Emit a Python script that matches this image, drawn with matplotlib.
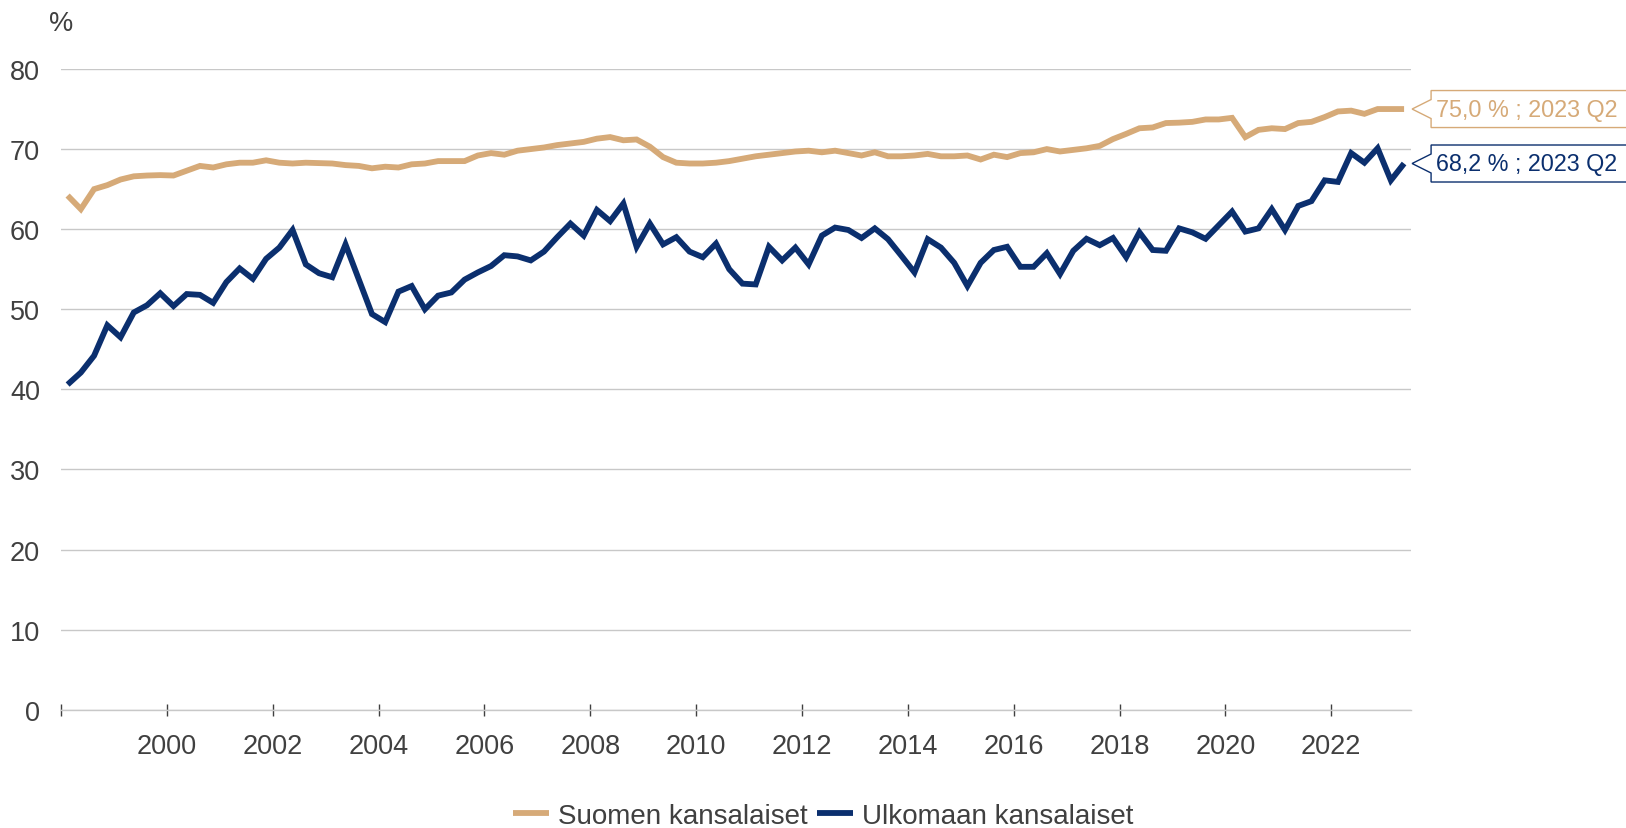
import matplotlib
matplotlib.use('Agg')
import matplotlib.pyplot as plt
from matplotlib.patches import Polygon
from matplotlib.transforms import IdentityTransform
import numpy as np

plt.rcParams['font.family'] = ['Liberation Sans', 'DejaVu Sans']

# ---------------- data ----------------
years = list(range(1998, 2024))
quarters = [1, 2, 3, 4]
n_points = 102  # 1998 Q1 ... 2023 Q2

suomi = [64.2, 62.5, 65.0, 65.5, 66.2, 66.6, 66.7, 66.75, 66.7, 67.3, 67.9, 67.7, 68.1, 68.3, 68.3, 68.6,
         68.3, 68.2, 68.3, 68.25, 68.2, 68.0, 67.9, 67.6, 67.8, 67.7, 68.1, 68.2, 68.5, 68.5, 68.5,
         69.2, 69.5, 69.3, 69.8, 70.0, 70.2, 70.5, 70.7, 70.9, 71.3, 71.5, 71.1, 71.2, 70.3, 69.0, 68.3,
         68.2, 68.2, 68.3, 68.5, 68.8, 69.1, 69.3, 69.5, 69.7, 69.8, 69.6, 69.8, 69.5, 69.2, 69.6,
         69.1, 69.1, 69.2, 69.4, 69.1, 69.1, 69.2, 68.7, 69.3, 69.0, 69.5, 69.6, 70.0, 69.7, 69.9, 70.1,
         70.4, 71.25, 71.9, 72.6, 72.7, 73.25, 73.3, 73.4, 73.7, 73.7, 73.9, 71.5, 72.4, 72.6, 72.5,
         73.25, 73.4, 74.0, 74.7, 74.8, 74.4, 75.0, 75.0, 75.0]

ulko = [40.6, 42.1, 44.2, 48.0, 46.5, 49.6, 50.5, 52.0, 50.4, 51.9, 51.8, 50.8, 53.4, 55.1, 53.8, 56.3,
        57.7, 59.9, 55.6, 54.5, 54.0, 58.1, 53.75, 49.4, 48.4, 52.2, 52.9, 50.0, 51.7, 52.1, 53.7,
        54.6, 55.4, 56.75, 56.6, 56.1, 57.2, 59.0, 60.7, 59.2, 62.4, 61.0, 63.2, 57.8, 60.7, 58.1, 59.0,
        57.2, 56.5, 58.2, 55.0, 53.2, 53.1, 57.8, 56.1, 57.7, 55.6, 59.2, 60.2, 59.9, 58.9, 60.1,
        58.75, 56.7, 54.6, 58.75, 57.7, 55.8, 52.9, 55.8, 57.4, 57.8, 55.3, 55.3, 57.0, 54.4, 57.3, 58.8,
        58.0, 58.9, 56.5, 59.6, 57.4, 57.3, 60.1, 59.6, 58.8, 60.5, 62.2, 59.7, 60.1, 62.5, 59.9,
        62.9, 63.5, 66.1, 65.9, 69.5, 68.3, 70.1, 66.1, 68.2]

series_names = ['Suomen kansalaiset', 'Ulkomaan kansalaiset']
end_labels = ['75,0 % ; 2023 Q2', '68,2 % ; 2023 Q2']
xtick_years = list(range(1998, 2023, 2))
xtick_labels = [''] + [str(y) for y in range(2000, 2023, 2)]
ytick_vals = list(range(0, 81, 10))

TAN = '#D6AA78'
NAVY = '#0B2F6E'
GREY_TXT = '#404040'
GRID = '#C8C8C8'

# ---------------- figure ----------------
W, H = 1626, 829
fig = plt.figure(figsize=(W / 100, H / 100), dpi=100)
ax_left, ax_right, ax_top, ax_bottom = 61, 1410.7, 70, 710.7
ax = fig.add_axes([ax_left / W, 1 - ax_bottom / H, (ax_right - ax_left) / W, (ax_bottom - ax_top) / H])

x = np.array([y + (q - 0.5) / 4 for y in years for q in quarters])[:n_points]

l1, = ax.plot(x, suomi, color=TAN, lw=4.2, solid_joinstyle='miter', solid_capstyle='butt', zorder=3)
l2, = ax.plot(x, ulko, color=NAVY, lw=4.2, solid_joinstyle='miter', solid_capstyle='butt', zorder=3)

ax.set_xlim(1998, 2023.5)
ax.set_ylim(0, 80)
ax.set_yticks(ytick_vals)
ax.set_xticks(xtick_years)
ax.set_xticklabels(xtick_labels)
ax.set_axisbelow(True)
ax.grid(axis='y', color=GRID, lw=1)
ax.grid(axis='x', visible=False)
for s in ['top', 'right', 'left']:
    ax.spines[s].set_visible(False)
ax.spines['bottom'].set_color(GRID)
ax.spines['bottom'].set_linewidth(1)
ax.tick_params(axis='x', direction='inout', length=9, width=1, color=GREY_TXT,
               labelsize=19.5, labelcolor=GREY_TXT, pad=12)
ax.tick_params(axis='y', length=0, pad=15, labelsize=19.5, labelcolor=GREY_TXT)

fig.text(ax_left, H - 24, '%', transform=IdentityTransform(), ha='center', va='center',
         fontsize=19.5, color=GREY_TXT)

# end labels with arrow boxes
for vals, col, txt in [(suomi, TAN, end_labels[0]), (ulko, NAVY, end_labels[1])]:
    px, py = ax.transData.transform((x[-1], vals[-1]))
    tip = px + 8
    bl = px + 27
    hh = 18.5
    nh = 9.5
    verts = [(bl, py + hh), (bl, py + nh), (tip, py), (bl, py - nh), (bl, py - hh),
             (W + 20, py - hh), (W + 20, py + hh)]
    poly = Polygon(verts, closed=True, transform=IdentityTransform(), facecolor='white',
                   edgecolor=col, lw=1, zorder=5)
    fig.add_artist(poly)
    fig.text(bl + 5, py, txt, transform=IdentityTransform(), ha='left', va='center',
             fontsize=16.8, color=col, zorder=6)

fig.legend([l1, l2], series_names, loc='center', bbox_to_anchor=(823 / W, 1 - 817 / H),
           ncol=2, frameon=False, fontsize=20,
           handlelength=1.3, handletextpad=0.3, columnspacing=0.36, borderpad=0, labelcolor=GREY_TXT)

fig.savefig('out.png', dpi=100)
